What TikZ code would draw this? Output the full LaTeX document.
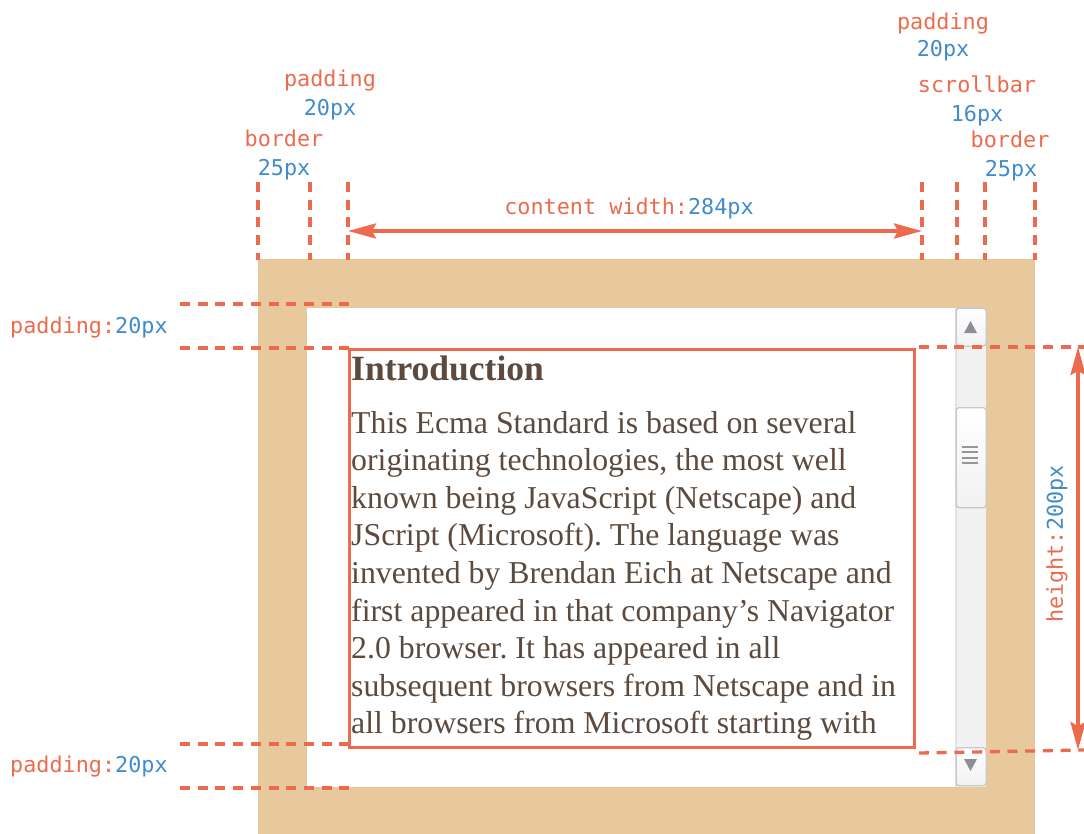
\documentclass[tikz,border=0pt]{standalone}
\usepackage{fontspec}
\setmainfont{Liberation Serif}
\newfontfamily\monofont{DejaVu Sans Mono}
\usetikzlibrary{arrows.meta}
\definecolor{dimred}{RGB}{236,107,78}
\definecolor{dimblue}{RGB}{66,139,202}
\definecolor{bordertan}{RGB}{232,201,158}
\definecolor{bodytext}{RGB}{92,74,62}
\definecolor{sbtrack}{RGB}{241,241,241}
\definecolor{sbline}{RGB}{226,226,226}
\definecolor{sbedge}{RGB}{200,200,200}
\definecolor{sbglyph}{RGB}{140,144,150}
\definecolor{sbgrip}{RGB}{150,150,150}
\frenchspacing
\begin{document}
\begin{tikzpicture}[x=1pt,y=-1pt,
  guide/.style={draw=dimred, line width=3.3pt, dash pattern=on 10pt off 7.7pt},
  dimarrow/.style={draw=dimred, line width=3.5pt,
    {Stealth[length=28pt,width=15pt,inset=4pt]}-{Stealth[length=28pt,width=15pt,inset=4pt]}},
  lbl/.style={font=\monofont\fontsize{21.8}{24}\selectfont, text=dimred, inner sep=0pt, anchor=base},
  num/.style={lbl, text=dimblue},
  bodyline/.style={font=\fontsize{31.8}{37.6}\selectfont, text=bodytext, inner sep=0pt, anchor=base west},
  sbbutton/.style={draw=sbedge, line width=1.3pt, rounded corners=3pt, top color=white, bottom color=sbtrack},
]
\useasboundingbox (0,0) rectangle (1084,834);

% box: border, padding area, scrollbar track
\fill[bordertan] (258,259) rectangle (1035,834);
\fill[white] (307,308) rectangle (986,787);
\fill[sbtrack] (955,308) rectangle (986,787);
\draw[sbline, line width=1.5pt] (955.75,308) -- (955.75,787);

% scrollbar buttons and thumb
\node[sbbutton, minimum width=30pt, minimum height=38pt, inner sep=0pt, anchor=north west] (upbtn) at (955.5,307.5) {};
\node[sbbutton, minimum width=30pt, minimum height=38pt, inner sep=0pt, anchor=north west] (downbtn) at (955.5,747) {};
\node[sbbutton, minimum width=30pt, minimum height=100pt, inner sep=0pt, anchor=north west] (thumb) at (955.5,407) {};
\fill[sbglyph] (964,333) -- (977,333) -- (970.5,321) -- cycle;
\fill[sbglyph] (964,759) -- (977,759) -- (970.5,771) -- cycle;
\foreach \gy in {447,452.3,457.6,463}
  \draw[sbgrip, line width=2.2pt] (962,\gy) -- (978,\gy);

% content text
\node[bodyline, font=\bfseries\fontsize{35.5}{40}\selectfont] (heading) at (351,380) {Introduction};
\foreach \t [count=\i] in {
  {This Ecma Standard is based on several},
  {originating technologies, the most well},
  {known being JavaScript (Netscape) and},
  {JScript (Microsoft). The language was},
  {invented by Brendan Eich at Netscape and},
  {first appeared in that company’s Navigator},
  {2.0 browser. It has appeared in all},
  {subsequent browsers from Netscape and in},
  {all browsers from Microsoft starting with}}
  \node[bodyline] (line\i) at (351,{433+37.6*(\i-1)}) {\t};

% content box
\node[draw=dimred, line width=3pt, minimum width=565pt, minimum height=398pt,
      inner sep=0pt, anchor=north west] (content) at (348,348) {};

% vertical guides
\foreach \n/\gx in {bl/258, pl/310, cl/348, cr/922, sr/957, pr/985, br/1035} {
  \coordinate (\n top) at (\gx,182);
  \coordinate (\n bot) at (\gx,260);
  \draw[guide] (\n top) -- (\n bot);
}

% horizontal guides on the left
\foreach \n/\gy in {a/304, b/348, c/744, d/788} {
  \coordinate (h\n L) at (180,\gy);
  \coordinate (h\n R) at (355,\gy);
  \draw[guide] (h\n L) -- (h\n R);
}

% horizontal guides on the right
\coordinate (htopR) at (1084,347);
\coordinate (hbotR) at (1084,750);
\draw[guide] ([xshift=3pt,yshift=1pt]content.north east) -- (htopR);
\draw[guide] ([xshift=3pt,yshift=-4pt]content.south east) -- (hbotR);

% dimension arrows
\coordinate (cwL) at (348,231);
\coordinate (cwR) at (922,231);
\draw[dimarrow] (cwL) -- (cwR);
\coordinate (hT) at (1078,347);
\coordinate (hB) at (1078,750);
\draw[dimarrow] (hT) -- (hB);

% labels
\node[lbl] (cwlabel) at (629,215) {content width:\textcolor{dimblue}{284px}};
\node[lbl, rotate=90, anchor=center] (hlabel) at (1057,544) {height:\textcolor{dimblue}{200px}};
\node[lbl, anchor=base west] (padtop) at (10,333) {padding:\textcolor{dimblue}{20px}};
\node[lbl, anchor=base west] (padbot) at (10,772) {padding:\textcolor{dimblue}{20px}};

\node[lbl] (lpad) at (330,87) {padding};
\node[num] (lpadv) at (330,116) {20px};
\node[lbl] (lbord) at (284,147) {border};
\node[num] (lbordv) at (284,176) {25px};

\node[lbl] (rpad) at (943,30) {padding};
\node[num] (rpadv) at (943,57) {20px};
\node[lbl] (rscroll) at (977,93) {scrollbar};
\node[num] (rscrollv) at (977,122) {16px};
\node[lbl] (rbord) at (1010,148) {border};
\node[num] (rbordv) at (1011,177) {25px};
\end{tikzpicture}
\end{document}
